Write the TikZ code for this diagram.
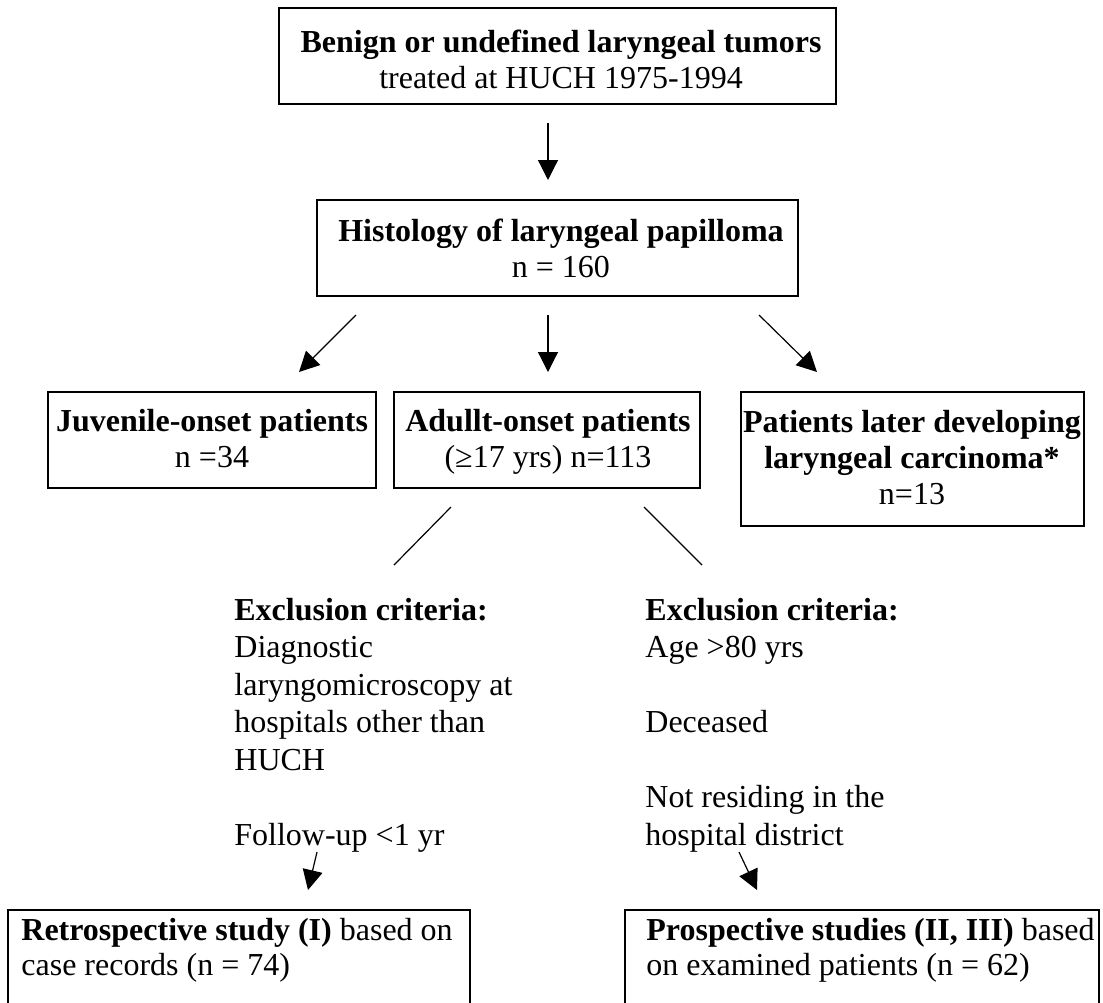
\documentclass[tikz,border=0pt]{standalone}
\usepackage{fontspec}
\setmainfont{Liberation Serif}
\usetikzlibrary{arrows.meta}
\begin{document}
\begin{tikzpicture}[x=0.5pt,y=-0.5pt,
  box/.style={draw, line width=0.8pt, inner sep=0pt},
  txt/.style={inner sep=0pt, anchor=base, font=\fontsize{16}{18}\selectfont},
  lefttxt/.style={inner sep=0pt, anchor=base west, font=\fontsize{16}{17.5}\selectfont},
  crit/.style={inner sep=0pt, anchor=base west, font=\fontsize{16}{18.75}\selectfont},
  arr/.style={line width=0.6pt, -{Triangle[length=10pt,width=10pt]}},
  ln/.style={line width=0.6pt}]
\useasboundingbox (0,0) rectangle (1103,1002);
\clip (0,0) rectangle (1103,1002);

% boxes
\node[box, minimum width=278.5pt, minimum height=48pt] (top) at (557.5,56) {};
\node[box, minimum width=240.5pt, minimum height=48pt] (hist) at (557.5,248) {};
\node[box, minimum width=164pt, minimum height=48pt] (juv) at (212,440) {};
\node[box, minimum width=153pt, minimum height=48pt] (adu) at (547,440) {};
\node[box, minimum width=171.5pt, minimum height=67pt] (car) at (912.5,459) {};
\node[box, minimum width=231pt, minimum height=60pt] (retro) at (239,970) {};
\node[box, minimum width=237pt, minimum height=60pt] (pros) at (862,970) {};

% box texts
\node[txt] (toptxt) at (561,52) {\begin{tabular}[t]{@{}c@{}}\textbf{Benign or undefined laryngeal tumors}\\ treated at HUCH 1975-1994\end{tabular}};
\node[txt] (histtxt) at (561,241) {\begin{tabular}[t]{@{}c@{}}\textbf{Histology of laryngeal papilloma}\\ n = 160\end{tabular}};
\node[txt] (juvtxt) at (212,431) {\begin{tabular}[t]{@{}c@{}}\textbf{Juvenile-onset patients}\\ n =34\end{tabular}};
\node[txt] (adutxt) at (548,431) {\begin{tabular}[t]{@{}c@{}}\textbf{Adullt-onset patients}\\ (≥17 yrs) n=113\end{tabular}};
\node[txt] (cartxt) at (912,432) {\begin{tabular}[t]{@{}c@{}}\textbf{Patients later developing}\\ \textbf{laryngeal carcinoma*}\\ n=13\end{tabular}};
\node[lefttxt] (retrotxt) at (21,940) {\begin{tabular}[t]{@{}l@{}}\textbf{Retrospective study (I)} based on\\ case records (n = 74)\end{tabular}};
\node[lefttxt] (prostxt) at (646,940) {\begin{tabular}[t]{@{}l@{}}\textbf{Prospective studies (II, III)} based\\ on examined patients (n = 62)\end{tabular}};

% exclusion criteria
\node[crit] (exl) at (234,620) {\begin{tabular}[t]{@{}l@{}}\textbf{Exclusion criteria:}\\ Diagnostic\\ laryngomicroscopy at\\ hospitals other than\\ HUCH\\ \\ Follow-up <1 yr\end{tabular}};
\node[crit] (exr) at (645,620) {\begin{tabular}[t]{@{}l@{}}\textbf{Exclusion criteria:}\\ Age >80 yrs\\ \\ Deceased\\ \\ Not residing in the\\ hospital district\end{tabular}};

% connector end points
\coordinate (a1s) at (548,123); \coordinate (a1e) at (548,180);
\coordinate (a2s) at (356,315); \coordinate (a2e) at (299,372);
\coordinate (a3s) at (548,315); \coordinate (a3e) at (548,372);
\coordinate (a4s) at (759,315); \coordinate (a4e) at (817,372);
\coordinate (l1s) at (451,507); \coordinate (l1e) at (394,565);
\coordinate (l2s) at (644,507); \coordinate (l2e) at (702,565);
\coordinate (a5s) at (317,852); \coordinate (a5e) at (308,890);
\coordinate (a6s) at (739,852); \coordinate (a6e) at (757,890);

\draw[arr] (a1s) -- (a1e);
\draw[arr] (a2s) -- (a2e);
\draw[arr] (a3s) -- (a3e);
\draw[arr] (a4s) -- (a4e);
\draw[ln] (l1s) -- (l1e);
\draw[ln] (l2s) -- (l2e);
\draw[arr] (a5s) -- (a5e);
\draw[arr] (a6s) -- (a6e);
\end{tikzpicture}
\end{document}
